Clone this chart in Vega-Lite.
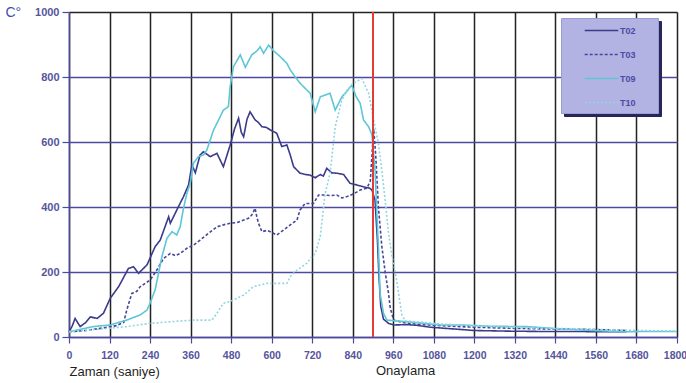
{
  "$schema": "https://vega.github.io/schema/vega-lite/v6.json",
  "width": 608,
  "height": 325,
  "autosize": {"type": "none"},
  "padding": {"left": 69, "top": 12, "right": 9, "bottom": 46},
  "background": "white",
  "config": {
    "font": "Liberation Sans",
    "view": {"stroke": null}
  },
  "resolve": {"scale": {"shape": "independent"}, "legend": {"shape": "independent"}},
  "datasets": {
    "temps": [
      {"s":"T02","t":0,"v":15},{"s":"T02","t":10,"v":35},{"s":"T02","t":18,"v":57},{"s":"T02","t":33,"v":32},{"s":"T02","t":50,"v":45},{"s":"T02","t":63,"v":62},{"s":"T02","t":83,"v":57},{"s":"T02","t":102,"v":73},{"s":"T02","t":122,"v":119},{"s":"T02","t":147,"v":155},{"s":"T02","t":176,"v":211},{"s":"T02","t":191,"v":216},{"s":"T02","t":206,"v":196},{"s":"T02","t":231,"v":222},{"s":"T02","t":255,"v":278},{"s":"T02","t":270,"v":298},{"s":"T02","t":295,"v":370},{"s":"T02","t":300,"v":350},{"s":"T02","t":324,"v":401},{"s":"T02","t":339,"v":432},{"s":"T02","t":354,"v":468},{"s":"T02","t":364,"v":530},{"s":"T02","t":374,"v":505},{"s":"T02","t":388,"v":560},{"s":"T02","t":398,"v":570},{"s":"T02","t":418,"v":555},{"s":"T02","t":438,"v":565},{"s":"T02","t":457,"v":524},{"s":"T02","t":477,"v":590},{"s":"T02","t":490,"v":640},{"s":"T02","t":502,"v":673},{"s":"T02","t":510,"v":630},{"s":"T02","t":517,"v":616},{"s":"T02","t":527,"v":670},{"s":"T02","t":536,"v":693},{"s":"T02","t":551,"v":668},{"s":"T02","t":561,"v":660},{"s":"T02","t":571,"v":647},{"s":"T02","t":584,"v":645},{"s":"T02","t":596,"v":637},{"s":"T02","t":615,"v":627},{"s":"T02","t":630,"v":586},{"s":"T02","t":645,"v":591},{"s":"T02","t":655,"v":560},{"s":"T02","t":665,"v":524},{"s":"T02","t":684,"v":504},{"s":"T02","t":700,"v":500},{"s":"T02","t":714,"v":498},{"s":"T02","t":729,"v":490},{"s":"T02","t":744,"v":500},{"s":"T02","t":753,"v":495},{"s":"T02","t":763,"v":519},{"s":"T02","t":778,"v":505},{"s":"T02","t":793,"v":504},{"s":"T02","t":813,"v":500},{"s":"T02","t":832,"v":473},{"s":"T02","t":852,"v":468},{"s":"T02","t":872,"v":462},{"s":"T02","t":890,"v":458},{"s":"T02","t":897,"v":452},{"s":"T02","t":906,"v":421},{"s":"T02","t":913,"v":300},{"s":"T02","t":918,"v":180},{"s":"T02","t":923,"v":95},{"s":"T02","t":931,"v":55},{"s":"T02","t":946,"v":42},{"s":"T02","t":961,"v":37},{"s":"T02","t":1000,"v":38},{"s":"T02","t":1030,"v":36},{"s":"T02","t":1070,"v":30},{"s":"T02","t":1109,"v":27},{"s":"T02","t":1150,"v":24},{"s":"T02","t":1197,"v":20},{"s":"T02","t":1250,"v":19},{"s":"T02","t":1300,"v":18},{"s":"T02","t":1400,"v":17},{"s":"T02","t":1500,"v":17},{"s":"T02","t":1600,"v":16},{"s":"T02","t":1651,"v":16},
      {"s":"T03","t":0,"v":16},{"s":"T03","t":50,"v":20},{"s":"T03","t":102,"v":28},{"s":"T03","t":140,"v":35},{"s":"T03","t":162,"v":45},{"s":"T03","t":171,"v":83},{"s":"T03","t":186,"v":134},{"s":"T03","t":200,"v":140},{"s":"T03","t":211,"v":155},{"s":"T03","t":240,"v":175},{"s":"T03","t":260,"v":206},{"s":"T03","t":280,"v":242},{"s":"T03","t":300,"v":257},{"s":"T03","t":315,"v":250},{"s":"T03","t":329,"v":257},{"s":"T03","t":349,"v":273},{"s":"T03","t":369,"v":283},{"s":"T03","t":388,"v":298},{"s":"T03","t":413,"v":319},{"s":"T03","t":438,"v":339},{"s":"T03","t":457,"v":345},{"s":"T03","t":477,"v":350},{"s":"T03","t":497,"v":352},{"s":"T03","t":517,"v":360},{"s":"T03","t":531,"v":365},{"s":"T03","t":541,"v":375},{"s":"T03","t":551,"v":396},{"s":"T03","t":556,"v":370},{"s":"T03","t":561,"v":350},{"s":"T03","t":571,"v":324},{"s":"T03","t":586,"v":328},{"s":"T03","t":596,"v":324},{"s":"T03","t":615,"v":314},{"s":"T03","t":635,"v":329},{"s":"T03","t":655,"v":345},{"s":"T03","t":675,"v":360},{"s":"T03","t":684,"v":391},{"s":"T03","t":699,"v":411},{"s":"T03","t":724,"v":411},{"s":"T03","t":739,"v":437},{"s":"T03","t":753,"v":437},{"s":"T03","t":773,"v":435},{"s":"T03","t":793,"v":437},{"s":"T03","t":808,"v":428},{"s":"T03","t":823,"v":432},{"s":"T03","t":842,"v":440},{"s":"T03","t":862,"v":452},{"s":"T03","t":882,"v":458},{"s":"T03","t":892,"v":480},{"s":"T03","t":897,"v":560},{"s":"T03","t":902,"v":640},{"s":"T03","t":908,"v":560},{"s":"T03","t":916,"v":400},{"s":"T03","t":926,"v":280},{"s":"T03","t":936,"v":200},{"s":"T03","t":946,"v":134},{"s":"T03","t":951,"v":90},{"s":"T03","t":961,"v":52},{"s":"T03","t":1000,"v":42},{"s":"T03","t":1050,"v":38},{"s":"T03","t":1100,"v":35},{"s":"T03","t":1200,"v":30},{"s":"T03","t":1300,"v":27},{"s":"T03","t":1400,"v":25},{"s":"T03","t":1500,"v":24},{"s":"T03","t":1600,"v":22},{"s":"T03","t":1650,"v":20},
      {"s":"T09","t":0,"v":16},{"s":"T09","t":40,"v":25},{"s":"T09","t":72,"v":32},{"s":"T09","t":122,"v":37},{"s":"T09","t":171,"v":52},{"s":"T09","t":211,"v":68},{"s":"T09","t":231,"v":83},{"s":"T09","t":240,"v":104},{"s":"T09","t":255,"v":145},{"s":"T09","t":265,"v":196},{"s":"T09","t":275,"v":247},{"s":"T09","t":290,"v":304},{"s":"T09","t":305,"v":324},{"s":"T09","t":319,"v":314},{"s":"T09","t":329,"v":339},{"s":"T09","t":339,"v":396},{"s":"T09","t":349,"v":442},{"s":"T09","t":359,"v":473},{"s":"T09","t":368,"v":534},{"s":"T09","t":383,"v":555},{"s":"T09","t":398,"v":560},{"s":"T09","t":408,"v":575},{"s":"T09","t":418,"v":606},{"s":"T09","t":428,"v":637},{"s":"T09","t":443,"v":668},{"s":"T09","t":457,"v":698},{"s":"T09","t":472,"v":709},{"s":"T09","t":477,"v":770},{"s":"T09","t":487,"v":832},{"s":"T09","t":497,"v":850},{"s":"T09","t":507,"v":868},{"s":"T09","t":522,"v":830},{"s":"T09","t":541,"v":868},{"s":"T09","t":556,"v":880},{"s":"T09","t":566,"v":893},{"s":"T09","t":576,"v":873},{"s":"T09","t":591,"v":898},{"s":"T09","t":606,"v":880},{"s":"T09","t":625,"v":863},{"s":"T09","t":645,"v":842},{"s":"T09","t":655,"v":822},{"s":"T09","t":670,"v":800},{"s":"T09","t":684,"v":781},{"s":"T09","t":704,"v":760},{"s":"T09","t":714,"v":750},{"s":"T09","t":729,"v":693},{"s":"T09","t":744,"v":739},{"s":"T09","t":760,"v":745},{"s":"T09","t":773,"v":750},{"s":"T09","t":788,"v":698},{"s":"T09","t":808,"v":739},{"s":"T09","t":822,"v":755},{"s":"T09","t":837,"v":775},{"s":"T09","t":850,"v":740},{"s":"T09","t":862,"v":719},{"s":"T09","t":872,"v":668},{"s":"T09","t":887,"v":647},{"s":"T09","t":897,"v":622},{"s":"T09","t":906,"v":514},{"s":"T09","t":911,"v":391},{"s":"T09","t":916,"v":278},{"s":"T09","t":921,"v":134},{"s":"T09","t":931,"v":73},{"s":"T09","t":941,"v":52},{"s":"T09","t":1000,"v":47},{"s":"T09","t":1050,"v":42},{"s":"T09","t":1099,"v":37},{"s":"T09","t":1158,"v":37},{"s":"T09","t":1250,"v":33},{"s":"T09","t":1355,"v":32},{"s":"T09","t":1454,"v":25},{"s":"T09","t":1550,"v":20},{"s":"T09","t":1651,"v":16},{"s":"T09","t":1700,"v":17},{"s":"T09","t":1800,"v":17},
      {"s":"T10","t":0,"v":16},{"s":"T10","t":100,"v":25},{"s":"T10","t":171,"v":32},{"s":"T10","t":240,"v":42},{"s":"T10","t":300,"v":47},{"s":"T10","t":368,"v":52},{"s":"T10","t":423,"v":52},{"s":"T10","t":438,"v":73},{"s":"T10","t":457,"v":104},{"s":"T10","t":477,"v":109},{"s":"T10","t":517,"v":129},{"s":"T10","t":546,"v":155},{"s":"T10","t":586,"v":165},{"s":"T10","t":645,"v":165},{"s":"T10","t":655,"v":186},{"s":"T10","t":675,"v":206},{"s":"T10","t":704,"v":227},{"s":"T10","t":719,"v":247},{"s":"T10","t":729,"v":257},{"s":"T10","t":744,"v":310},{"s":"T10","t":758,"v":440},{"s":"T10","t":773,"v":504},{"s":"T10","t":788,"v":647},{"s":"T10","t":808,"v":729},{"s":"T10","t":823,"v":760},{"s":"T10","t":842,"v":781},{"s":"T10","t":867,"v":795},{"s":"T10","t":887,"v":750},{"s":"T10","t":902,"v":668},{"s":"T10","t":916,"v":596},{"s":"T10","t":926,"v":514},{"s":"T10","t":936,"v":421},{"s":"T10","t":946,"v":319},{"s":"T10","t":956,"v":250},{"s":"T10","t":966,"v":200},{"s":"T10","t":975,"v":140},{"s":"T10","t":985,"v":70},{"s":"T10","t":995,"v":50},{"s":"T10","t":1050,"v":45},{"s":"T10","t":1100,"v":40},{"s":"T10","t":1200,"v":35},{"s":"T10","t":1300,"v":30},{"s":"T10","t":1400,"v":27},{"s":"T10","t":1500,"v":25},{"s":"T10","t":1600,"v":22},{"s":"T10","t":1700,"v":20},{"s":"T10","t":1800,"v":18}
    ],
    "series": [{"s":"T02"},{"s":"T03"},{"s":"T09"},{"s":"T10"}],
    "marker": [{"t": 900, "v": -105, "label": "Onaylama"}]
  },
  "layer": [
    {
      "data": {"name": "temps"},
      "mark": {"type": "line", "strokeWidth": 1.6},
      "encoding": {
        "x": {
          "field": "t", "type": "quantitative",
          "scale": {"domain": [0, 1800], "nice": false, "zero": false},
          "axis": {
            "values": [0,60,120,180,240,300,360,420,480,540,600,660,720,780,840,900,960,1020,1080,1140,1200,1260,1320,1380,1440,1500,1560,1620,1680,1740,1800],
            "format": "d",
            "labelExpr": "datum.value % 120 === 0 ? datum.label : ''",
            "grid": true,
            "gridColor": "#222222",
            "gridWidth": 1.5,
            "gridOpacity": {"condition": {"test": "datum.value % 120 === 0", "value": 1}, "value": 0},
            "tickSize": {"condition": {"test": "datum.value % 120 === 0", "value": 6}, "value": 3},
            "tickColor": "#4b4a9e",
            "tickWidth": 1.2,
            "domainColor": "#4b4a9e",
            "domainWidth": 1.5,
            "labelFont": "Liberation Sans",
            "labelFontSize": 10.5,
            "labelFontWeight": "bold",
            "labelColor": "#55559c",
            "labelPadding": 7,
            "labelOffset": {"condition": {"test": "datum.value === 1800", "value": -2}, "value": 0},
            "labelFlush": false,
            "labelOverlap": false,
            "title": "Zaman (saniye)",
            "titleFont": "Liberation Sans",
            "titleFontSize": 13,
            "titleFontWeight": "normal",
            "titleColor": "#1f1f1f",
            "titleAnchor": "start",
            "titleAlign": "left",
            "titleBaseline": "middle",
            "titleX": 0,
            "titleY": 34
          }
        },
        "y": {
          "field": "v", "type": "quantitative",
          "scale": {"domain": [0, 1000], "nice": false},
          "axis": {
            "values": [0,100,200,300,400,500,600,700,800,900,1000],
            "format": "d",
            "labelOverlap": false,
            "labelFlush": false,
            "grid": true,
            "gridColor": {"condition": {"test": "datum.value === 1000", "value": "#222222"}, "value": "#4b4a9e"},
            "gridWidth": 1.5,
            "tickColor": "#4b4a9e",
            "tickSize": 7,
            "tickWidth": 1.2,
            "domainColor": "#4b4a9e",
            "domainWidth": 1.5,
            "labelFont": "Liberation Sans",
            "labelFontSize": 11,
            "labelFontWeight": "bold",
            "labelColor": "#55559c",
            "labelPadding": 3,
            "title": "C°",
            "titleFont": "Liberation Sans",
            "titleAngle": 0,
            "titleAlign": "left",
            "titleBaseline": "middle",
            "titleX": -64,
            "titleY": 0,
            "titleFontSize": 14,
            "titleFontWeight": "normal",
            "titleColor": "#3b4db5"
          }
        },
        "color": {
          "field": "s", "type": "nominal",
          "scale": {"domain": ["T02","T03","T09","T10"], "range": ["#3b3a8c","#46469a","#5ec6d6","#92d5e2"]},
          "legend": {
            "title": null, "orient": "none", "legendX": 492, "legendY": 5, "zindex": 3,
            "fillColor": "transparent", "strokeColor": "transparent", "padding": 2,
            "symbolType": "M-1.6,0H1.6", "symbolSize": 441, "symbolStrokeWidth": 1.5,
            "symbolOffset": 27, "labelOffset": 7, "rowPadding": 7,
            "labelFont": "Liberation Sans", "labelFontSize": 9, "labelFontWeight": "bold", "labelColor": "#4b4ba6"
          }
        },
        "strokeDash": {
          "field": "s", "type": "nominal",
          "scale": {"domain": ["T02","T03","T09","T10"], "range": [[1,0],[3,2],[1,0],[2,2]]},
          "legend": {
            "title": null, "orient": "none", "legendX": 492, "legendY": 5, "zindex": 3,
            "fillColor": "transparent", "strokeColor": "transparent", "padding": 2,
            "symbolType": "M-1.6,0H1.6", "symbolSize": 441, "symbolStrokeWidth": 1.5,
            "symbolOffset": 27, "labelOffset": 7, "rowPadding": 7,
            "labelFont": "Liberation Sans", "labelFontSize": 9, "labelFontWeight": "bold", "labelColor": "#4b4ba6"
          }
        }
      }
    },
    {
      "data": {"name": "series"},
      "mark": {"type": "point", "opacity": 0},
      "encoding": {
        "shape": {
          "field": "s", "type": "nominal",
          "scale": {"domain": ["T10","T09","T03","T02"], "range": ["circle","circle","circle","circle"]},
          "legend": {
            "title": null, "orient": "none", "legendX": 492, "legendY": 6, "zindex": 2,
            "fillColor": "#b3b3e3", "strokeColor": "#9c9cd0", "padding": 2,
            "symbolSize": 441, "symbolStrokeWidth": 1.5, "symbolOpacity": 0,
            "symbolOffset": 0, "labelOffset": 70, "rowPadding": 1,
            "labelFontSize": 9, "labelExpr": "''"
          }
        }
      }
    },
    {
      "data": {"name": "series"},
      "mark": {"type": "point", "opacity": 0},
      "encoding": {
        "shape": {
          "field": "s", "type": "nominal",
          "scale": {"domain": ["T09","T10","T02","T03"], "range": ["circle","circle","circle","circle"]},
          "legend": {
            "title": null, "orient": "none", "legendX": 495, "legendY": 9, "zindex": 1,
            "fillColor": "#26265a", "strokeColor": "#26265a", "padding": 2,
            "symbolSize": 441, "symbolStrokeWidth": 1.5, "symbolOpacity": 0,
            "symbolOffset": 0, "labelOffset": 70, "rowPadding": 1,
            "labelFontSize": 9, "labelExpr": "''"
          }
        }
      }
    },
    {
      "data": {"name": "marker"},
      "mark": {"type": "rule", "color": "#e53b35", "strokeWidth": 2},
      "encoding": {
        "x": {"field": "t", "type": "quantitative", "scale": {"domain": [0, 1800], "nice": false, "zero": false}}
      }
    },
    {
      "data": {"name": "marker"},
      "mark": {"type": "text", "align": "left", "baseline": "middle", "dx": 3, "fontSize": 13, "font": "Liberation Sans", "color": "#1f1f1f"},
      "encoding": {
        "x": {"field": "t", "type": "quantitative", "scale": {"domain": [0, 1800], "nice": false, "zero": false}},
        "y": {"field": "v", "type": "quantitative", "scale": {"domain": [0, 1000], "nice": false}},
        "text": {"field": "label"}
      }
    }
  ]
}
